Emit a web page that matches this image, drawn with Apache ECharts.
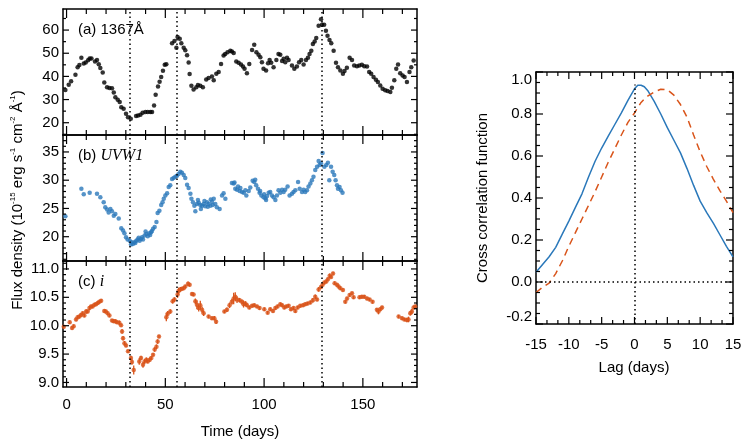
<!DOCTYPE html>
<html>
<head>
<meta charset="utf-8">
<script src="https://cdn.jsdelivr.net/npm/echarts@6/dist/echarts.min.js"></script>
<style>
  html, body { margin: 0; padding: 0; background: #fff; }
  #chart { width: 747px; height: 446px; }
</style>
</head>
<body>
<div id="chart"></div>
<script>
// ---- (a) 1367A light curve ----
const aDays = [-0.6, 1.1, 2.3, 4.5, 5.6, 6.5, 7.5, 8.7, 9.7, 10.9, 11.7, 12.6, 14.4, 15.4, 16.3, 17.1, 18.3, 19.1, 20.5, 21.7,
  23.0, 23.9, 24.7, 25.9, 26.9, 27.7, 28.9, 30.1, 31.1, 32.5, 35.2, 36.2, 37.4, 38.5, 39.9, 41.1, 42.4, 43.3, 44.3, 45.1,
  46.3, 47.1, 47.9, 48.8, 49.7, 50.5, 53.4, 54.6, 55.6, 56.2, 57.3, 58.1, 59.3, 60.1, 61.0, 61.8, 62.3, 63.2, 64.3, 65.7,
  66.5, 67.7, 69.0, 70.7, 71.9, 73.6, 74.5, 75.8, 77.0, 78.2, 79.5, 80.3, 81.5, 82.9, 83.7, 84.6, 85.9, 87.1, 88.3, 89.3,
  90.1, 91.3, 92.5, 93.9, 95.0, 96.1, 97.2, 98.1, 98.9, 99.7, 101.0, 102.0, 102.8, 103.6, 104.8, 106.2, 107.3, 108.2, 109.1, 109.9,
  110.7, 111.6, 112.4, 114.1, 115.3, 116.6, 117.7, 118.8, 120.0, 121.2, 122.2, 123.0, 123.9, 124.7, 125.6, 126.4, 127.6, 128.8, 129.3, 130.4,
  131.3, 132.1, 133.1, 134.0, 135.2, 136.4, 137.4, 138.6, 139.9, 140.7, 141.9, 143.3, 144.5, 145.6, 147.0, 148.2, 149.5, 150.7, 152.1, 153.2,
  154.2, 155.4, 156.6, 157.6, 158.8, 160.0, 161.3, 162.5, 163.9, 164.7, 165.9, 166.9, 167.8, 168.9, 170.1, 171.1, 172.3, 173.6, 174.5, 175.7];
const aFlux = [34.1, 36.4, 37.9, 40.7, 44.0, 44.9, 48.1, 45.6, 46.0, 47.0, 47.7, 47.7, 46.4, 47.1, 45.3, 43.6, 41.7, 37.4, 35.3, 35.0,
  34.9, 33.1, 31.0, 29.9, 28.9, 26.7, 26.0, 23.9, 22.4, 21.7, 22.9, 23.1, 23.4, 24.3, 24.6, 24.6, 24.6, 24.6, 27.4, 32.1,
  35.6, 37.7, 39.7, 42.4, 45.0, 45.3, 54.3, 55.3, 52.4, 57.0, 56.3, 54.3, 52.4, 51.3, 49.1, 46.0, 41.0, 36.0, 34.3, 35.3,
  36.3, 36.0, 35.3, 38.7, 39.3, 40.0, 38.3, 41.1, 41.9, 45.4, 49.0, 49.7, 50.4, 51.1, 50.7, 50.1, 46.4, 45.9, 45.1, 44.3,
  43.3, 41.4, 45.4, 51.4, 53.7, 50.4, 49.4, 48.3, 46.1, 43.3, 42.6, 45.7, 47.1, 45.9, 44.0, 47.1, 49.7, 49.4, 46.6, 47.6,
  46.1, 48.0, 47.1, 44.7, 43.3, 44.3, 46.1, 47.1, 45.1, 47.1, 48.0, 49.7, 51.1, 54.0, 55.1, 56.6, 61.9, 64.7, 62.3, 62.3,
  59.7, 57.6, 55.7, 54.3, 51.1, 45.9, 44.0, 42.6, 41.1, 42.3, 43.7, 48.0, 47.1, 44.7, 44.4, 44.7, 45.0, 44.4, 44.3, 41.9,
  41.1, 39.7, 38.6, 37.6, 36.1, 34.7, 34.0, 33.7, 33.3, 35.1, 38.3, 43.3, 45.1, 41.4, 40.4, 39.7, 37.6, 41.9, 44.0, 46.9];

// ---- (b) UVW1 light curve ----
const bDays = [-0.6, 7.5, 8.7, 11.7, 15.4, 17.1, 18.8, 19.6, 20.5, 21.3, 22.2, 23.0, 23.9, 24.7, 26.4, 27.7, 28.6, 29.3, 30.1, 30.9,
  32.0, 32.6, 33.0, 33.6, 34.3, 34.8, 35.3, 36.0, 36.5, 37.0, 37.7, 38.2, 38.7, 39.5, 40.0, 40.4, 41.1, 41.9, 42.3, 42.8,
  43.2, 43.8, 44.6, 45.5, 46.1, 47.0, 47.9, 48.6, 49.2, 50.0, 50.9, 51.7, 52.5, 53.4, 54.2, 55.1, 55.9, 56.7, 57.6, 58.4,
  59.3, 60.1, 61.0, 61.8, 62.7, 63.2, 64.0, 64.7, 65.2, 66.0, 66.5, 66.9, 67.7, 68.0, 68.6, 69.4, 69.8, 70.2, 71.1, 71.5,
  71.9, 72.8, 73.0, 73.6, 74.0, 74.5, 75.3, 76.1, 77.5, 78.7, 79.5, 80.4, 83.7, 84.6, 85.0, 85.4, 86.3, 86.8, 87.6, 88.0,
  88.8, 89.7, 90.5, 91.0, 92.2, 93.0, 94.2, 95.0, 95.5, 96.0, 96.9, 97.7, 98.0, 98.6, 99.7, 100.0, 100.6, 101.0, 101.5, 102.3,
  103.1, 104.0, 104.8, 105.7, 106.5, 107.3, 108.2, 109.1, 109.9, 110.7, 111.9, 112.9, 114.1, 114.9, 115.8, 117.2, 118.0, 119.2, 120.0, 120.8,
  121.7, 122.5, 123.4, 124.2, 125.0, 125.9, 126.8, 127.6, 128.1, 128.8, 129.6, 130.5, 131.5, 132.3, 133.0, 133.9, 134.7, 135.5, 136.2, 136.9,
  137.4, 138.2, 138.9, 139.7];
const bFlux = [23.6, 28.5, 27.5, 27.8, 27.6, 27.0, 26.1, 25.2, 24.8, 24.3, 24.9, 24.5, 23.7, 24.0, 23.2, 21.5, 21.1, 20.6, 19.9, 19.5,
  19.3, 18.6, 19.0, 18.7, 19.0, 18.9, 19.3, 19.5, 19.8, 19.3, 19.6, 19.9, 19.5, 20.2, 20.9, 20.5, 20.1, 20.6, 20.3, 20.8,
  21.0, 21.4, 21.7, 22.6, 24.2, 24.6, 25.6, 26.1, 26.7, 27.3, 27.7, 28.8, 29.1, 30.2, 30.4, 30.6, 30.8, 31.1, 31.5, 31.3,
  30.9, 30.4, 29.2, 28.6, 27.6, 26.7, 26.1, 25.5, 24.5, 25.8, 26.5, 26.0, 25.6, 24.9, 25.5, 25.8, 26.3, 25.4, 26.1, 25.3,
  25.8, 25.5, 26.6, 26.2, 25.6, 26.7, 25.8, 25.2, 24.9, 27.3, 27.7, 26.7, 29.5, 29.4, 29.6, 28.5, 28.3, 28.9, 28.1, 28.6,
  27.9, 27.8, 28.2, 27.3, 28.1, 28.7, 29.9, 29.7, 30.1, 29.1, 28.5, 27.8, 28.1, 27.3, 27.0, 27.5, 26.8, 26.5, 27.2, 27.8,
  27.9, 27.3, 27.0, 26.5, 27.3, 28.2, 27.8, 28.3, 27.9, 28.3, 28.9, 27.3, 27.6, 27.9, 28.2, 29.7, 28.5, 27.9, 28.3, 27.9,
  28.2, 28.9, 29.4, 30.0, 30.6, 31.8, 32.4, 33.4, 32.7, 33.0, 34.8, 32.4, 32.7, 33.1, 30.0, 32.4, 31.5, 30.9, 30.0, 29.1,
  28.5, 28.8, 28.2, 27.8];

// ---- (c) i light curve ----
const cDays = [-1.4, 1.6, 2.8, 3.6, 4.8, 5.6, 6.5, 7.3, 8.2, 9.0,
  9.9, 10.7, 11.6, 12.4, 13.2, 14.1, 14.9, 15.8, 16.6, 17.5,
  19.1, 19.9, 20.8, 21.7, 23.0, 23.9, 24.7, 25.5, 26.7, 27.6,
  28.1, 28.6, 29.3, 30.1, 31.1, 32.6, 33.1, 34.0, 36.8, 37.7,
  38.7, 39.5, 40.4, 41.1, 42.1, 42.9, 43.8, 44.6, 45.5, 46.1,
  46.8, 50.5, 51.2, 52.5, 53.7, 54.6, 56.2, 56.7, 57.6, 58.4,
  59.3, 60.1, 61.5, 62.3, 63.5, 64.3, 65.2, 66.0, 66.9, 67.7,
  68.6, 69.4, 71.9, 73.6, 74.8, 75.7, 79.9, 81.2, 82.5, 83.7,
  84.6, 85.4, 86.3, 87.6, 88.8, 89.6, 90.5, 91.3, 92.5, 93.9,
  95.0, 96.4, 97.7, 100.1, 101.8, 103.1, 104.5, 105.7, 106.8, 108.2,
  109.1, 110.2, 111.2, 112.4, 113.6, 114.9, 115.8, 117.0, 118.3, 119.7,
  120.8, 122.0, 123.4, 124.7, 125.9, 126.8, 127.6, 128.8, 129.6, 130.5,
  131.5, 132.3, 133.2, 133.9, 134.9, 135.7, 136.9, 137.7, 138.6, 139.9,
  141.1, 142.0, 143.3, 144.5, 145.3, 148.3, 149.5, 150.7, 152.1, 153.4,
  154.9, 157.1, 157.9, 158.8, 159.7, 168.1, 169.8, 171.0, 172.3, 173.1,
  174.0, 174.8, 175.7, 176.5];
const cFlux = [9.98, 10.06, 9.96, 9.99, 10.11, 10.15, 10.16, 10.19, 10.22, 10.18,
  10.25, 10.25, 10.31, 10.34, 10.34, 10.37, 10.38, 10.40, 10.42, 10.44,
  10.26, 10.25, 10.22, 10.18, 10.09, 10.08, 10.08, 10.06, 10.05, 10.01,
  9.90, 9.78, 9.69, 9.65, 9.55, 9.43, 9.36, 9.22, 9.37, 9.43,
  9.31, 9.37, 9.40, 9.37, 9.40, 9.43, 9.49, 9.58, 9.63, 9.72,
  9.81, 10.15, 10.21, 10.25, 10.43, 10.46, 10.55, 10.61, 10.64, 10.65,
  10.66, 10.69, 10.74, 10.72, 10.56, 10.55, 10.43, 10.37, 10.31, 10.36,
  10.28, 10.22, 10.16, 10.13, 10.13, 10.07, 10.25, 10.28, 10.36, 10.42,
  10.48, 10.51, 10.46, 10.45, 10.42, 10.38, 10.39, 10.36, 10.32, 10.35,
  10.36, 10.34, 10.31, 10.29, 10.23, 10.29, 10.26, 10.31, 10.34, 10.38,
  10.36, 10.32, 10.34, 10.35, 10.29, 10.31, 10.26, 10.32, 10.35, 10.36,
  10.38, 10.39, 10.41, 10.45, 10.51, 10.46, 10.64, 10.68, 10.72, 10.76,
  10.78, 10.82, 10.88, 10.86, 10.92, 10.75, 10.72, 10.69, 10.66, 10.63,
  10.42, 10.48, 10.54, 10.57, 10.50, 10.50, 10.51, 10.51, 10.48, 10.46,
  10.42, 10.28, 10.25, 10.29, 10.32, 10.16, 10.13, 10.11, 10.10, 10.11,
  10.22, 10.25, 10.32, 10.34];
const cErr = [0.03, 0.03, 0.03, 0.03, 0.03, 0.03, 0.03, 0.03, 0.03, 0.03,
  0.04, 0.03, 0.04, 0.03, 0.03, 0.03, 0.03, 0.03, 0.03, 0.03,
  0.03, 0.03, 0.03, 0.03, 0.03, 0.03, 0.03, 0.03, 0.04, 0.03,
  0.04, 0.04, 0.04, 0.03, 0.03, 0.04, 0.05, 0.08, 0.06, 0.04,
  0.05, 0.04, 0.04, 0.03, 0.04, 0.03, 0.03, 0.04, 0.04, 0.04,
  0.03, 0.07, 0.05, 0.04, 0.04, 0.04, 0.06, 0.06, 0.04, 0.03,
  0.03, 0.03, 0.04, 0.03, 0.03, 0.03, 0.05, 0.08, 0.06, 0.08,
  0.06, 0.05, 0.03, 0.03, 0.04, 0.04, 0.03, 0.04, 0.05, 0.05,
  0.10, 0.08, 0.06, 0.04, 0.04, 0.06, 0.04, 0.03, 0.03, 0.03,
  0.03, 0.03, 0.03, 0.03, 0.03, 0.03, 0.03, 0.03, 0.03, 0.03,
  0.03, 0.03, 0.03, 0.03, 0.03, 0.03, 0.03, 0.03, 0.03, 0.03,
  0.03, 0.03, 0.03, 0.04, 0.04, 0.03, 0.04, 0.03, 0.03, 0.03,
  0.03, 0.03, 0.04, 0.03, 0.03, 0.03, 0.03, 0.03, 0.03, 0.03,
  0.03, 0.03, 0.03, 0.03, 0.03, 0.03, 0.03, 0.03, 0.03, 0.03,
  0.03, 0.03, 0.05, 0.03, 0.03, 0.03, 0.03, 0.03, 0.04, 0.05,
  0.04, 0.05, 0.03, 0.03];

// dotted reference days
const eventDays = [31.8, 56.0, 129.3];

// ---- cross correlation ----
const lags = [-15, -14, -13, -12, -11, -10, -9, -8, -7, -6, -5, -4, -3, -2, -1, 0, 0.5, 1, 1.5,
  2, 3, 4, 5, 6, 7, 8, 9, 10, 11, 12, 13, 14, 15];
const ccfUVW1 = [0.046, 0.083, 0.12, 0.165, 0.228, 0.29, 0.355, 0.42, 0.50, 0.575, 0.638, 0.695, 0.75, 0.805, 0.865, 0.92, 0.937, 0.937, 0.93,
  0.912, 0.86, 0.80, 0.735, 0.675, 0.615, 0.54, 0.46, 0.385, 0.33, 0.28, 0.225, 0.17, 0.12];
const ccfI = [-0.05, -0.025, -0.005, 0.04, 0.10, 0.17, 0.235, 0.30, 0.365, 0.43, 0.50, 0.57, 0.635, 0.70, 0.76, 0.805, 0.83, 0.855, 0.872,
  0.885, 0.905, 0.918, 0.915, 0.89, 0.845, 0.785, 0.70, 0.62, 0.55, 0.49, 0.435, 0.385, 0.33];
const ccfPeak = 0.94;

// ---- tick labels ----
const timeLabels = [0, 50, 100, 150];
const timeMinor = [10, 20, 30, 40, 60, 70, 80, 90, 110, 120, 130, 140, 160, 170];
const aLabels = [20, 30, 40, 50, 60];
const aMinor = [15, 25, 35, 45, 55, 65];
const bLabels = [20, 25, 30, 35];
const bMinor = [16, 17, 18, 19, 21, 22, 23, 24, 26, 27, 28, 29, 31, 32, 33, 34, 36, 37, 38];
const cLabels = [9.0, 9.5, 10.0, 10.5, 11.0];
const cMinor = [9.1, 9.2, 9.3, 9.4, 9.6, 9.7, 9.8, 9.9, 10.1, 10.2, 10.3, 10.4, 10.6, 10.7, 10.8, 10.9, 11.1];
const lagLabels = [-15, -10, -5, 0, 5, 10, 15];
const lagMinor = [-13.33, -11.67, -8.33, -6.67, -3.33, -1.67, 1.67, 3.33, 6.67, 8.33, 11.67, 13.33];
const ccfLabels = [-0.2, 0.0, 0.2, 0.4, 0.6, 0.8, 1.0];
const ccfMinor = [-0.15, -0.1, -0.05, 0.05, 0.1, 0.15, 0.25, 0.3, 0.35, 0.45, 0.5, 0.55, 0.65, 0.7, 0.75, 0.85, 0.9, 0.95];

const BLACK = '#000';
const BLUE = '#2a78ba';
const ORANGE = '#d9541a';
const FONT = '"Liberation Sans", Arial, sans-serif';

const timeRange = [-1.8, 177.4];
const lagRange = [-15, 15];
const ccfRange = [-0.2, 1.0];
const panels = [
  { top: 9, range: [14.7, 69.1], labels: aLabels, minor: aMinor, fmt: v => String(v) },
  { top: 135, range: [15.7, 38.0], labels: bLabels, minor: bMinor, fmt: v => String(v) },
  { top: 261, range: [8.92, 11.14], labels: cLabels, minor: cMinor, fmt: v => v.toFixed(1) }
];

const frameLine = { show: true, onZero: false, lineStyle: { color: BLACK, width: 1.5 } };

const xAxes = [], yAxes = [];
function frameAxis(list, grid, pos, range, labels, fmt, margin, extraLabel) {
  list.push({
    type: 'value', gridIndex: grid, position: pos, min: range[0], max: range[1],
    axisLine: frameLine,
    splitLine: { show: false },
    axisTick: { show: false },
    axisLabel: labels
      ? Object.assign({ show: true, customValues: labels, formatter: fmt, margin: margin, color: BLACK, fontFamily: FONT, fontSize: 15 }, extraLabel || {})
      : { show: false }
  });
  return list.length - 1;
}

const grids = [];
const series = [];
const dotted = { color: BLACK, width: 1.5, type: [1.5, 3] };
const tickSets = [];

panels.forEach((p, i) => {
  grids.push({ left: 63, top: p.top, width: 354, height: 126 });
  p.xi = frameAxis(xAxes, i, 'bottom', timeRange, i === 2 ? timeLabels : null, v => String(v), 10);
  frameAxis(xAxes, i, 'top', timeRange, null);
  p.yi = frameAxis(yAxes, i, 'left', p.range, p.labels, p.fmt, 4);
  frameAxis(yAxes, i, 'right', p.range, null);
  tickSets.push({ xi: p.xi, yi: p.yi, xr: timeRange, yr: p.range,
    xMajor: timeLabels, xMinor: timeMinor, xLen: [9, 5], yMajor: p.labels, yMinor: p.minor, yLen: [6, 3] });
});

const vLines = {
  silent: true, symbol: ['none', 'none'], label: { show: false }, animation: false,
  lineStyle: dotted, data: eventDays.map(d => ({ xAxis: d }))
};

series.push({
  type: 'scatter', xAxisIndex: panels[0].xi, yAxisIndex: panels[0].yi,
  data: aDays.map((d, i) => [d, aFlux[i]]), symbolSize: 4.5, itemStyle: { color: BLACK },
  markLine: vLines
});
series.push({
  type: 'scatter', xAxisIndex: panels[1].xi, yAxisIndex: panels[1].yi,
  data: bDays.map((d, i) => [d, bFlux[i]]), symbolSize: 4.5, itemStyle: { color: BLUE },
  markLine: vLines
});
series.push({
  type: 'custom', xAxisIndex: panels[2].xi, yAxisIndex: panels[2].yi,
  data: cDays.map((d, i) => [d, cFlux[i], cErr[i]]),
  renderItem: (params, api) => {
    const x = api.value(0), y = api.value(1), e = api.value(2);
    const lo = api.coord([x, y - e]), hi = api.coord([x, y + e]);
    return { type: 'line', shape: { x1: lo[0], y1: lo[1], x2: hi[0], y2: hi[1] }, style: { stroke: ORANGE, lineWidth: 1.3 } };
  },
  silent: true
});
series.push({
  type: 'scatter', xAxisIndex: panels[2].xi, yAxisIndex: panels[2].yi,
  data: cDays.map((d, i) => [d, cFlux[i]]), symbolSize: 4.5, itemStyle: { color: ORANGE },
  markLine: vLines
});

// ---- right panel ----
grids.push({ left: 536, top: 72, width: 197, height: 252 });
const rx = frameAxis(xAxes, 3, 'bottom', lagRange, lagLabels, v => String(v), 13);
frameAxis(xAxes, 3, 'top', lagRange, null);
const ry = frameAxis(yAxes, 3, 'left', ccfRange, ccfLabels, v => v.toFixed(1), 4,
  { verticalAlignMaxLabel: 'top', verticalAlignMinLabel: 'bottom' });
frameAxis(yAxes, 3, 'right', ccfRange, null);
tickSets.push({ xi: rx, yi: ry, xr: lagRange, yr: ccfRange,
  xMajor: lagLabels, xMinor: lagMinor, xLen: [7, 4], yMajor: ccfLabels, yMinor: ccfMinor, yLen: [7, 4] });

series.push({
  type: 'line', xAxisIndex: rx, yAxisIndex: ry, symbol: 'none',
  data: lags.map((l, i) => [l, ccfUVW1[i]]),
  lineStyle: { color: BLUE, width: 1.5 },
  markLine: {
    silent: true, symbol: ['none', 'none'], label: { show: false }, animation: false,
    lineStyle: dotted,
    data: [{ yAxis: 0 }, [{ coord: [0, -0.2] }, { coord: [0, ccfPeak] }]]
  }
});
series.push({
  type: 'line', xAxisIndex: rx, yAxisIndex: ry, symbol: 'none',
  data: lags.map((l, i) => [l, ccfI[i]]),
  lineStyle: { color: ORANGE, width: 1.5, type: [7, 5] }
});

const txt = (x, y, text, extra) => Object.assign({
  type: 'text', x: x, y: y, z: 100,
  style: Object.assign({
    text: text, fill: BLACK, font: '15px ' + FONT,
    align: 'left', verticalAlign: 'middle', textAlign: 'left', textVerticalAlign: 'middle'
  }, extra || {})
});
const it = { fontFamily: '"Liberation Serif", "Times New Roman", serif', fontStyle: 'italic', fontSize: 16, fill: BLACK };

const chart = echarts.init(document.getElementById('chart'));
chart.setOption({
  animation: false,
  backgroundColor: '#fff',
  grid: grids,
  xAxis: xAxes,
  yAxis: yAxes,
  series: series
});

// inward ticks on all four sides, placed with the axes' own scales
const tickEls = [];
const tickStyle = { stroke: BLACK, lineWidth: 1.2 };
const seg = (x1, y1, x2, y2) => tickEls.push({ type: 'line', silent: true, z: 100,
  shape: { x1: x1, y1: y1, x2: x2, y2: y2 }, style: tickStyle });
tickSets.forEach(t => {
  const px = v => chart.convertToPixel({ xAxisIndex: t.xi }, v);
  const py = v => chart.convertToPixel({ yAxisIndex: t.yi }, v);
  const L = px(t.xr[0]), R = px(t.xr[1]), T = py(t.yr[1]), B = py(t.yr[0]);
  [[t.xMajor, t.xLen[0]], [t.xMinor, t.xLen[1]]].forEach(([vals, len]) => vals.forEach(v => {
    const x = px(v);
    seg(x, B, x, B - len);
    seg(x, T, x, T + len);
  }));
  [[t.yMajor, t.yLen[0]], [t.yMinor, t.yLen[1]]].forEach(([vals, len]) => vals.forEach(v => {
    const y = py(v);
    seg(L, y, L + len, y);
    seg(R, y, R - len, y);
  }));
});

chart.setOption({
  graphic: [
    txt(78, 30, '(a) 1367Å'),
    txt(78, 156, '(b) {it|UVW1}', { rich: { it: it } }),
    txt(78, 282, '(c) {it|i}', { rich: { it: it } }),
    txt(240, 432, 'Time (days)', { align: 'center', textAlign: 'center' }),
    txt(634, 368, 'Lag (days)', { align: 'center', textAlign: 'center' }),
    Object.assign(txt(483, 198, 'Cross correlation function', { align: 'center', textAlign: 'center' }), { rotation: Math.PI / 2 }),
    Object.assign(txt(18, 200, 'Flux density (10{s|-15} erg s{s|-1} cm{s|-2} Å{s|-1})', {
      align: 'center', textAlign: 'center', lineHeight: 18,
      rich: { s: { fontSize: 8, fontFamily: FONT, fill: BLACK, verticalAlign: 'top' } }
    }), { rotation: Math.PI / 2 })
  ].concat(tickEls)
});
</script>
</body>
</html>
